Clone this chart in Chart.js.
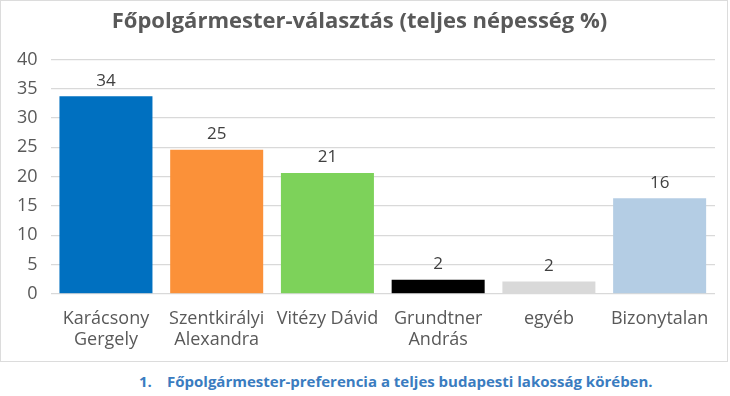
<!DOCTYPE html>
<html>
<head>
<meta charset="utf-8">
<script src="https://cdn.jsdelivr.net/npm/chart.js@4"></script>
<style>
    body { margin: 0; background: #fff; font-family: "Open Sans", sans-serif; }
    #frame { position: absolute; left: 0; top: 0; width: 726px; height: 360px; border: 1px solid #dcdcdc; }
    #caption { position: absolute; left: 139px; top: 371px; font-weight: bold; font-size: 15px; color: #3a7cc0; white-space: nowrap; }
    #caption span { display: inline-block; width: 28px; }
</style>
</head>
<body>
<div id="frame"><canvas id="chart" width="726" height="360"></canvas></div>
<div id="caption"><span>1.</span>Főpolgármester-preferencia a teljes budapesti lakosság körében.</div>
<script>
const categories = [["Karácsony", "Gergely"], ["Szentkirályi", "Alexandra"], "Vitézy Dávid", ["Grundtner", "András"], "egyéb", "Bizonytalan"];
const values = [33.7, 24.6, 20.6, 2.4, 2.1, 16.3];
const barColors = ["#0070c0", "#fb9139", "#7dd25a", "#000000", "#d9d9d9", "#b4cde4"];
const yTicks = [0, 5, 10, 15, 20, 25, 30, 35, 40];

// draws the rounded value above every bar
const valueLabels = {
    id: 'valueLabels',
    afterDatasetsDraw(chart) {
        const ctx = chart.ctx;
        const meta = chart.getDatasetMeta(0);
        ctx.save();
        ctx.font = '17px "Open Sans"';
        ctx.fillStyle = '#404040';
        ctx.textAlign = 'center';
        ctx.textBaseline = 'bottom';
        meta.data.forEach((bar, i) => {
            ctx.fillText(Math.round(values[i]), bar.x, bar.y - 7);
        });
        ctx.restore();
    }
};

const config = {
    type: 'bar',
    data: {
        labels: categories,
        datasets: [{
            data: values,
            backgroundColor: barColors,
            categoryPercentage: 0.84,
            barPercentage: 1.0
        }]
    },
    options: {
        responsive: false,
        animation: false,
        layout: { padding: { left: 3, right: 12, top: 0, bottom: 4 } },
        plugins: {
            legend: { display: false },
            tooltip: { enabled: false },
            title: {
                display: true,
                text: 'Főpolgármester-választás (teljes népesség %)',
                color: '#595959',
                font: { family: 'Open Sans', size: 22, weight: 'bold' },
                padding: { top: 8, bottom: 24 }
            }
        },
        scales: {
            x: {
                grid: { display: false },
                border: { display: false },
                ticks: {
                    color: '#595959',
                    font: { family: 'Open Sans', size: 18 },
                    maxRotation: 0,
                    autoSkip: false,
                    padding: 6
                }
            },
            y: {
                min: 0,
                max: 40,
                afterBuildTicks(axis) {
                    axis.ticks = yTicks.map(v => ({ value: v }));
                },
                grid: { color: '#d9d9d9', lineWidth: 1.2, drawTicks: false },
                border: { display: false },
                ticks: {
                    color: '#595959',
                    font: { family: 'Open Sans', size: 18 },
                    padding: 13
                }
            }
        }
    },
    plugins: [valueLabels]
};

window.onload = function() {
    const ctx = document.getElementById('chart').getContext('2d');
    window.chart = new Chart(ctx, config);
};
</script>
</body>
</html>
